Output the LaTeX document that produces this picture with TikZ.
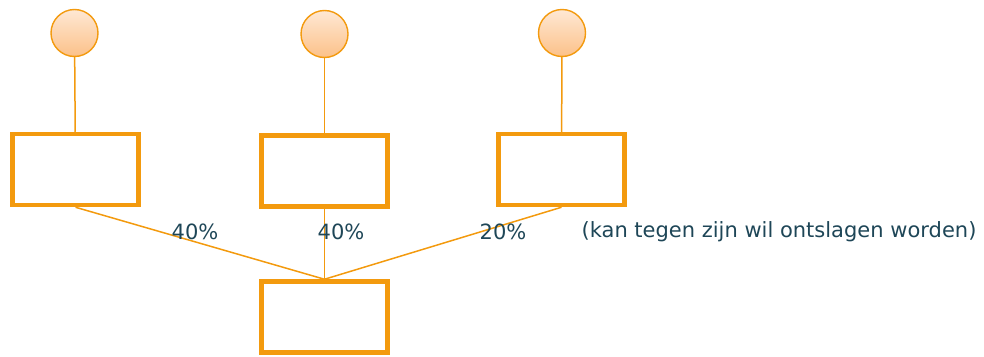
\documentclass[tikz,border=0pt]{standalone}
\usepackage{fontspec}
\setmainfont{DejaVu Sans}
\definecolor{boxorange}{HTML}{F39A0E}
\definecolor{ballfill1}{HTML}{FEE8D4}
\definecolor{ballfill2}{HTML}{FCC189}
\definecolor{labeltext}{HTML}{1E4657}
\begin{document}
\begin{tikzpicture}[x=1pt,y=-1pt,
  unitbox/.style={draw=boxorange, line width=4.5pt, minimum width=126pt, minimum height=71pt, inner sep=0pt},
  ball/.style={circle, draw=boxorange, line width=1.4pt, top color=ballfill1, bottom color=ballfill2, minimum size=47pt, inner sep=0pt},
  link/.style={draw=boxorange, line width=1.5pt},
  pct/.style={text=labeltext, font=\fontsize{21}{24}\selectfont, inner sep=0pt}]
\useasboundingbox (0,0) rectangle (984,356);
% heads
\node[ball] (c1) at (74.5,33) {};
\node[ball] (c2) at (324.5,34) {};
\node[ball] (c3) at (562,33) {};
% units
\node[unitbox] (b1) at (75.5,169.5) {};
\node[unitbox] (b2) at (324.5,171) {};
\node[unitbox] (b3) at (561.5,169.5) {};
\node[unitbox] (bot) at (324.5,317) {};
% reporting lines
\draw[link] (c1) -- (b1);
\draw[link] (c2) -- (b2);
\draw[link] (c3) -- (b3);
\draw[link] (b1.south) -- (bot.north);
\draw[link] (b2.south) -- (bot.north);
\draw[link] (b3.south) -- (bot.north);
% shares
\node[pct] (p1) at (195,232) {40\%};
\node[pct] (p2) at (341,232) {40\%};
\node[pct] (p3) at (503,232) {20\%};
\node[pct] (note) at (779,232) {(kan tegen zijn wil ontslagen worden)};
\end{tikzpicture}
\end{document}
